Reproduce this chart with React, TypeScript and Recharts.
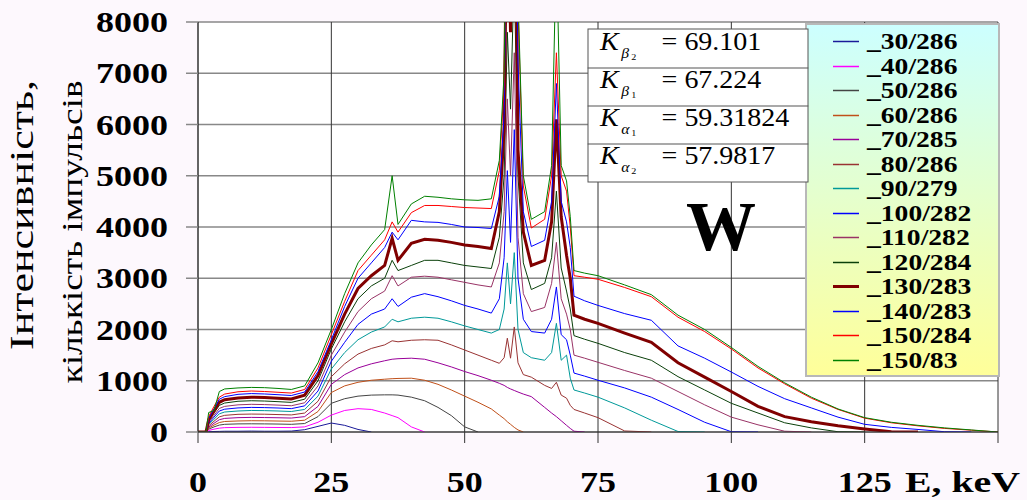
import React from 'react';
import { ComposedChart, Line, XAxis, YAxis, CartesianGrid, Legend } from 'recharts';

// Energy grid, keV (denser around the W K-lines)
const energy = [
  0, 1.5, 2, 3, 4, 5, 7.5, 10, 12.5, 15,
  17.5, 20, 22.5, 25, 27.5, 30, 32.5, 35, 36.4, 37.5,
  40, 42.5, 45, 47.5, 50, 52.5, 55, 56.5, 57.4, 58,
  58.6, 59.3, 60, 61, 62.5, 65, 66.3, 67.2, 68.1, 69.1,
  69.8, 70.5, 72.5, 75, 80, 85, 90, 95, 100, 105,
  110, 115, 120, 125, 130, 135, 140, 145, 150,
];

// counts per series
const s30 = [
  0, 0, 5, 10, 12, 15, 15, 18, 15, 15,
  18, 45, 110, 175, 130, 50, 0,
];
const s40 = [
  0, 0, 30, 55, 75, 85, 90, 92, 90, 88,
  86, 100, 190, 330, 420, 455, 440, 370, 320, 280,
  100, 0,
];
const s50 = [
  0, 0, 55, 100, 135, 150, 158, 160, 158, 155,
  150, 165, 300, 560, 650, 700, 720, 725, 725, 720,
  680, 610, 480, 320, 100, 0,
];
const s60 = [
  0, 0, 75, 135, 185, 205, 215, 220, 218, 214,
  210, 230, 400, 770, 900, 970, 1010, 1030, 1040, 1045,
  1050, 1010, 930, 820, 700, 580, 450, 330, 260, 200,
  150, 90, 40, 0,
];
const s70 = [
  0, 0, 95, 170, 240, 265, 280, 285, 282, 278,
  272, 300, 500, 930, 1120, 1250, 1330, 1390, 1420, 1430,
  1440, 1420, 1350, 1270, 1180, 1100, 1010, 950, 910, 870,
  840, 810, 780, 740, 690, 480, 370, 300, 220, 130,
  70, 15, 0,
];
const s80 = [
  0, 0, 120, 210, 295, 325, 345, 350, 347, 340,
  333, 370, 600, 1080, 1330, 1520, 1630, 1700, 1780, 1760,
  1790, 1800, 1790, 1700, 1600, 1500, 1400, 1340, 1450, 1830,
  1440, 2050, 1350, 1120, 1070, 910, 850, 970, 720, 660,
  520, 440, 370, 280, 20, 0,
];
const s90 = [
  0, 0, 145, 250, 355, 390, 410, 420, 417, 410,
  400, 440, 700, 1230, 1550, 1800, 1950, 2050, 2200, 2150,
  2220, 2240, 2220, 2150, 2070, 2000, 1930, 2000, 2400, 3300,
  2500, 3500, 2000, 1550, 1450, 1400, 1550, 2120, 1400, 1500,
  1050, 820, 760, 680, 470, 230, 10, 0,
];
const s100 = [
  0, 0, 165, 290, 410, 445, 470, 480, 476, 468,
  456, 510, 800, 1380, 1750, 2100, 2300, 2400, 2600, 2450,
  2630, 2700, 2640, 2560, 2470, 2400, 2320, 2600, 3400, 5100,
  3700, 5900, 3000, 2200, 1960, 1930, 2200, 2830, 1900, 1800,
  1500, 1150, 1090, 1010, 860, 680, 440, 190, 5, 0,
];
const s110 = [
  0, 0, 190, 325, 460, 500, 530, 540, 535, 525,
  512, 570, 900, 1500, 1950, 2350, 2600, 2750, 3050, 2850,
  3020, 3040, 3020, 2970, 2920, 2870, 2830, 3300, 4300, 6500,
  5000, 7400, 3800, 2700, 2350, 2430, 2900, 3700, 2600, 2300,
  2000, 1500, 1440, 1360, 1200, 1050, 790, 530, 290, 140,
  15, 0,
];
const s120 = [
  0, 0, 215, 370, 520, 565, 600, 610, 604, 592,
  578, 640, 1000, 1620, 2150, 2600, 2850, 3000, 3350, 3150,
  3250, 3350, 3350, 3300, 3250, 3220, 3190, 3800, 5000, 7800,
  6300, 9000, 5000, 3300, 2780, 2900, 3400, 4700, 3200, 2750,
  2400, 1880, 1810, 1730, 1550, 1400, 1080, 820, 560, 370,
  180, 80, 5, 0,
];
const s130 = [
  0, 0, 240, 410, 580, 630, 665, 680, 673, 660,
  645, 720, 1100, 1720, 2300, 2800, 3050, 3250, 3780, 3350,
  3680, 3760, 3740, 3700, 3650, 3620, 3580, 4300, 5900, 11000,
  7800, 13000, 5500, 3900, 3250, 3350, 4100, 6100, 4200, 3450,
  3000, 2280, 2200, 2120, 1930, 1750, 1350, 1070, 790, 500,
  300, 200, 120, 60, 5, 0,
];
const s140 = [
  0, 0, 265, 450, 640, 690, 735, 750, 742, 728,
  712, 780, 1180, 1800, 2450, 3000, 3300, 3600, 3900, 3750,
  4130, 4100, 4090, 4050, 4000, 3990, 3970, 4600, 6200, 11500,
  8200, 13500, 7200, 4300, 3620, 3740, 4500, 6800, 4500, 4100,
  3600, 2650, 2560, 2470, 2310, 2180, 1680, 1440, 1170, 890,
  650, 470, 290, 150, 90, 50, 5, 0,
];
const s150a = [
  0, 0, 300, 500, 680, 740, 785, 800, 790, 775,
  760, 830, 1250, 1900, 2550, 3150, 3450, 3750, 4100, 3900,
  4280, 4420, 4420, 4400, 4380, 4370, 4360, 5100, 6800, 12000,
  8800, 14000, 8300, 4800, 3980, 4150, 5000, 7400, 5000, 4700,
  4000, 3050, 3020, 2980, 2820, 2640, 2240, 1960, 1620, 1250,
  940, 660, 440, 270, 180, 120, 70, 35, 0,
];
const s150b = [
  0, 0, 380, 420, 790, 840, 860, 870, 865, 850,
  830, 900, 1350, 2000, 2700, 3300, 3650, 3950, 5000, 4050,
  4450, 4600, 4580, 4550, 4530, 4520, 4550, 5300, 7000, 12000,
  9000, 14000, 8500, 5000, 4150, 4300, 5200, 9500, 5200, 4900,
  4200, 3150, 3100, 3050, 2870, 2680, 2280, 2000, 1650, 1280,
  960, 680, 450, 280, 190, 130, 80, 40, 0,
];

const xTicks = [0, 25, 50, 75, 100, 125, 150];
const yTicks = [0, 1000, 2000, 3000, 4000, 5000, 6000, 7000, 8000];

const kLines = [
  { sym: 'β', idx: '2', val: '69.101' },
  { sym: 'β', idx: '1', val: '67.224' },
  { sym: 'α', idx: '1', val: '59.31824' },
  { sym: 'α', idx: '2', val: '57.9817' },
];

const series = [
  { key: 's30', name: '_30/286', color: '#1a1a99', width: 1, values: s30 },
  { key: 's40', name: '_40/286', color: '#ff00ff', width: 1, values: s40 },
  { key: 's50', name: '_50/286', color: '#444444', width: 1, values: s50 },
  { key: 's60', name: '_60/286', color: '#c0501a', width: 1, values: s60 },
  { key: 's70', name: '_70/285', color: '#990099', width: 1, values: s70 },
  { key: 's80', name: '_80/286', color: '#993333', width: 1, values: s80 },
  { key: 's90', name: '_90/279', color: '#009999', width: 1, values: s90 },
  { key: 's100', name: '_100/282', color: '#0000ff', width: 1, values: s100 },
  { key: 's110', name: '_110/282', color: '#993366', width: 1, values: s110 },
  { key: 's120', name: '_120/284', color: '#0a400a', width: 1, values: s120 },
  { key: 's130', name: '_130/283', color: '#800000', width: 3, values: s130 },
  { key: 's140', name: '_140/283', color: '#0000ff', width: 1, values: s140 },
  { key: 's150a', name: '_150/284', color: '#ff0000', width: 1, values: s150a },
  { key: 's150b', name: '_150/83', color: '#008000', width: 1, values: s150b },
];

const chartData = energy.map((e, i) => {
  const row: any = { e };
  series.forEach(s => {
    if (i < s.values.length) row[s.key] = s.values[i];
  });
  return row;
});

const SERIF = "'Liberation Serif', 'Times New Roman', serif";

const YTick = (props: any) => {
  const { y, payload } = props;
  return (
    <text transform={`translate(168,${y + 10}) scale(1.2,1)`} textAnchor="end"
      fontFamily={SERIF} fontWeight="bold" fontSize={30} fill="#000">
      {payload.value}
    </text>
  );
};

const XTick = (props: any) => {
  const { x, payload } = props;
  if (payload.value === 150) {
    return (
      <text x={905} y={492} textLength={115} lengthAdjust="spacingAndGlyphs"
        fontFamily={SERIF} fontWeight="bold" fontSize={30} fill="#000">
        E, keV
      </text>
    );
  }
  return (
    <text transform={`translate(${x},492) scale(1.2,1)`} textAnchor="middle"
      fontFamily={SERIF} fontWeight="bold" fontSize={30} fill="#000">
      {payload.value}
    </text>
  );
};

// legend box with the cyan -> yellow fill, rows kept in series order
const LegendBox = () => (
  <svg width={195} height={354} style={{ display: 'block' }}>
    <defs>
      <linearGradient id="legFill" x1="0" y1="0" x2="0" y2="1">
        <stop offset="0%" stopColor="#ccffff" />
        <stop offset="100%" stopColor="#ffff99" />
      </linearGradient>
    </defs>
    <rect x={1} y={1} width={193} height={352} fill="url(#legFill)" stroke="#b8b8b8" strokeWidth={2} />
    {series.map((s, i) => {
      const cy = Math.round(18 + i * 24.5) + 0.5;
      return (
        <g key={s.key}>
          <line x1={28} x2={54} y1={cy} y2={cy} stroke={s.color} strokeWidth={s.width === 1 ? 1.5 : 3} />
          <text transform={`translate(62,${cy + 7}) scale(1.2,1)`} fontFamily={SERIF}
            fontWeight="bold" fontSize={23} fill="#000">
            {s.name}
          </text>
        </g>
      );
    })}
  </svg>
);

export default function App() {
  return (
    <div style={{ position: 'absolute', left: 0, top: 0, width: 1027, height: 500, background: '#fdf8fd' }}>
      <ComposedChart width={1027} height={500} data={chartData}
        margin={{ top: 22, right: 29, left: 0, bottom: 0 }}>
        <CartesianGrid vertical={false} stroke="#888888" strokeWidth={1.5} fill="#ffffff" />
        <CartesianGrid horizontal={false} stroke="#333333" strokeWidth={1} />
        <XAxis dataKey="e" type="number" domain={[0, 150]} ticks={xTicks} interval={0}
          height={68} tickSize={11} axisLine={{ stroke: '#333333' }} tickLine={{ stroke: '#333333' }}
          tick={<XTick />} />
        <YAxis type="number" domain={[0, 8000]} allowDataOverflow ticks={yTicks} interval={0}
          width={198} tickSize={12} axisLine={{ stroke: '#333333' }}
          tickLine={{ stroke: '#888888', strokeWidth: 1.5 }} tick={<YTick />} />
        <Legend layout="horizontal" verticalAlign="middle" align="center" content={<LegendBox />}
          wrapperStyle={{ left: 805, top: 23, width: 195, height: 354 }} />
        {series.map(s => (
          <Line key={s.key} dataKey={s.key} name={s.name} type="linear" stroke={s.color}
            strokeWidth={s.width} dot={false} activeDot={false} isAnimationActive={false} />
        ))}
      </ComposedChart>

      <svg width={1027} height={500} style={{ position: 'absolute', left: 0, top: 0, pointerEvents: 'none' }}>
        <text transform="translate(33,215) rotate(-90)" textAnchor="middle" fontFamily={SERIF}
          fontSize={33} textLength={270} lengthAdjust="spacingAndGlyphs" fill="#000">
          Інтенсивність,
        </text>
        <text transform="translate(82,232) rotate(-90)" textAnchor="middle" fontFamily={SERIF}
          fontSize={29} textLength={303} lengthAdjust="spacingAndGlyphs" fill="#000">
          кількість імпульсів
        </text>

        <rect x={588} y={29} width={220} height={153} fill="#ffffff" stroke="#555555" strokeWidth={1} />
        {kLines.map((k, i) => {
          const base = 50 + i * 38;
          return (
            <g key={k.val} transform={`translate(600,${base}) scale(1.12,1)`} fontFamily={SERIF} fill="#000">
              {i > 0 && <line x1={-11} x2={186} y1={-20} y2={-20} stroke="#555555" strokeWidth={1} />}
              <text x={0} y={0} fontSize={25} fontStyle="italic">K</text>
              <text x={19} y={8} fontSize={14} fontStyle="italic">{k.sym}</text>
              <text x={28} y={10} fontSize={9}>{k.idx}</text>
              <text x={55} y={0} fontSize={25}>{'= ' + k.val}</text>
            </g>
          );
        })}

        <text x={721} y={250} textAnchor="middle" fontFamily={SERIF} fontWeight="bold" fontSize={70} fill="#000">
          W
        </text>
      </svg>
    </div>
  );
}
